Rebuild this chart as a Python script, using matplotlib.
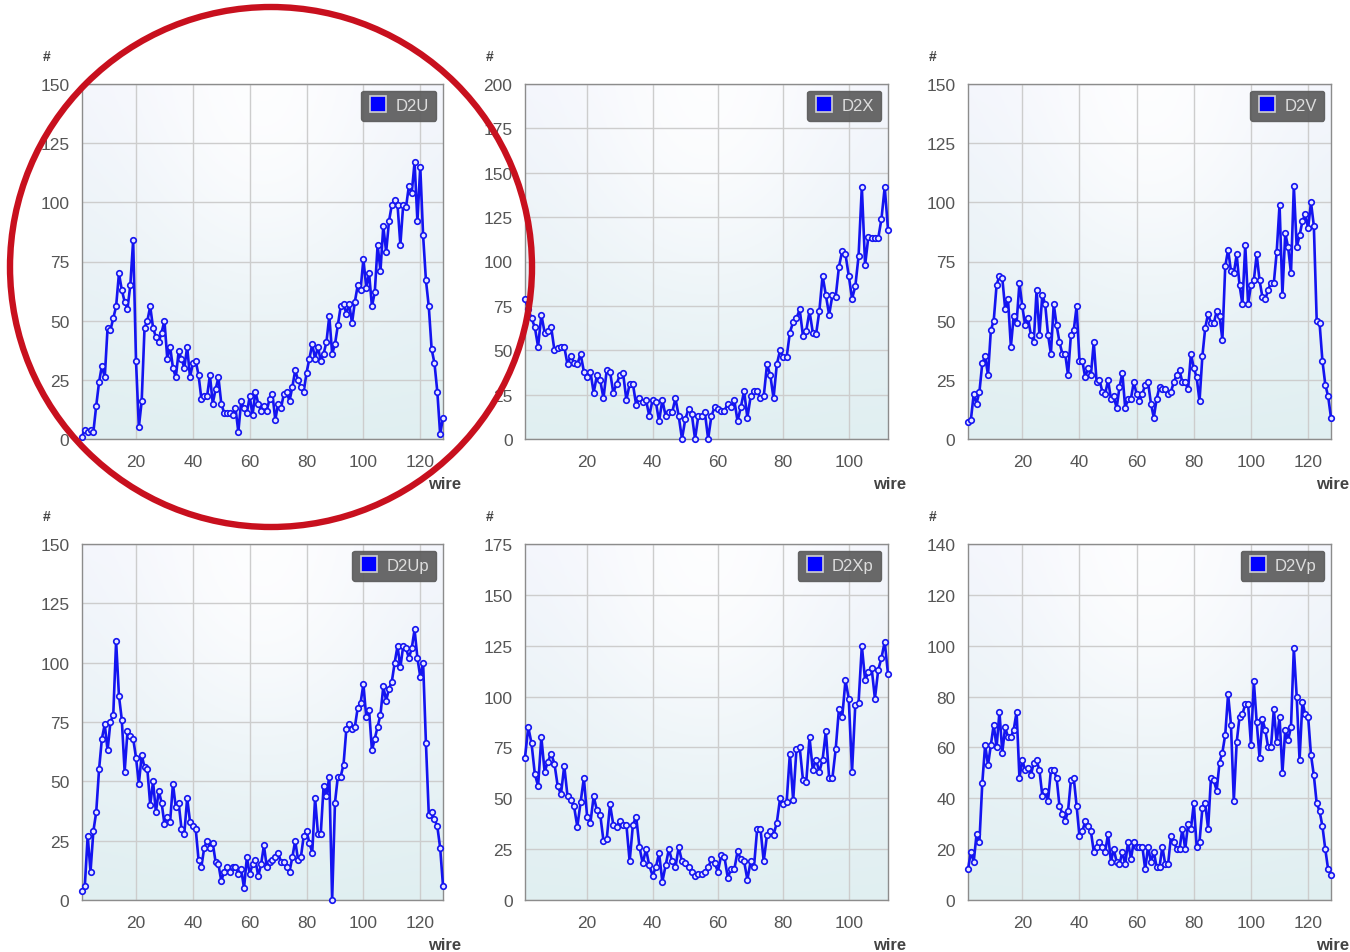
import numpy as np
import matplotlib
matplotlib.use('Agg')
import matplotlib.pyplot as plt
from matplotlib.lines import Line2D
from matplotlib.patches import Ellipse

plt.rcParams['font.family'] = ['Liberation Sans', 'DejaVu Sans']

# hits per wire
d2u = [1, 4, 3, 4, 3, 14, 24, 31, 26, 47,
       46, 51, 56, 70, 63, 58, 55, 65, 84, 33,
       5, 16, 47, 50, 56, 47, 43, 41, 45, 50,
       34, 39, 30, 26, 37, 34, 30, 39, 26, 32,
       33, 27, 17, 18, 18, 27, 15, 21, 26, 15,
       11, 11, 11, 10, 13, 3, 16, 13, 11, 18,
       10, 20, 15, 12, 14, 12, 17, 19, 8, 15,
       13, 19, 20, 16, 22, 29, 25, 22, 20, 28,
       34, 40, 34, 39, 33, 36, 41, 52, 36, 40,
       48, 56, 57, 53, 57, 49, 58, 65, 63, 76,
       64, 70, 56, 62, 82, 71, 90, 79, 92, 99,
       101, 99, 82, 99, 98, 107, 104, 117, 92, 115,
       86, 67, 56, 38, 32, 20, 2, 9]

d2x = [79, 73, 68, 63, 52, 70, 60, 61, 63, 50,
       51, 52, 52, 42, 47, 43, 42, 48, 38, 35,
       38, 26, 36, 33, 23, 39, 38, 26, 31, 36,
       37, 22, 31, 31, 19, 23, 21, 22, 13, 22,
       21, 10, 22, 13, 15, 15, 23, 13, 0, 11,
       17, 14, 0, 13, 13, 15, 0, 13, 18, 17,
       16, 16, 20, 18, 22, 10, 18, 27, 12, 24,
       27, 27, 23, 24, 42, 36, 23, 42, 50, 46,
       46, 60, 66, 68, 73, 58, 61, 72, 60, 59,
       72, 92, 81, 70, 81, 80, 97, 106, 104, 92,
       79, 86, 103, 142, 98, 114, 113, 113, 113, 124,
       142, 118]

d2v = [7, 8, 19, 15, 20, 32, 35, 27, 46, 50,
       65, 69, 68, 55, 59, 39, 52, 49, 66, 56,
       48, 51, 44, 41, 63, 44, 61, 57, 44, 36,
       57, 48, 41, 36, 36, 27, 44, 46, 56, 33,
       33, 26, 30, 27, 41, 24, 25, 20, 19, 25,
       17, 18, 13, 22, 28, 13, 17, 17, 24, 19,
       16, 19, 23, 24, 15, 9, 17, 22, 21, 21,
       19, 20, 24, 27, 29, 24, 24, 21, 36, 30,
       26, 16, 35, 47, 53, 49, 49, 54, 52, 42,
       73, 80, 71, 70, 78, 65, 57, 82, 57, 65,
       67, 78, 67, 60, 59, 63, 66, 66, 79, 99,
       61, 87, 81, 70, 107, 81, 86, 92, 95, 89,
       100, 90, 50, 49, 33, 23, 18, 9]

d2up = [4, 6, 27, 12, 29, 37, 55, 68, 74, 63,
        75, 78, 109, 86, 76, 54, 71, 69, 68, 60,
        49, 61, 56, 55, 40, 50, 37, 46, 41, 32,
        35, 33, 49, 39, 41, 30, 28, 43, 33, 31,
        30, 17, 14, 22, 25, 22, 24, 16, 15, 8,
        12, 14, 12, 14, 14, 11, 13, 5, 18, 11,
        15, 17, 10, 15, 23, 14, 16, 17, 18, 20,
        16, 16, 14, 12, 18, 25, 17, 18, 27, 29,
        24, 20, 43, 28, 28, 48, 44, 52, 0, 41,
        52, 52, 57, 72, 74, 72, 73, 81, 83, 91,
        77, 80, 63, 68, 73, 78, 90, 84, 89, 92,
        100, 107, 98, 107, 106, 102, 106, 114, 102, 94,
        100, 66, 36, 37, 34, 31, 22, 6]

d2xp = [70, 85, 77, 62, 56, 80, 63, 68, 72, 67,
        56, 52, 66, 51, 49, 46, 36, 48, 60, 41,
        38, 51, 44, 42, 29, 30, 47, 37, 36, 39,
        37, 37, 19, 37, 41, 26, 18, 25, 17, 12,
        16, 23, 9, 17, 25, 19, 16, 26, 19, 18,
        16, 14, 12, 13, 13, 14, 16, 20, 18, 14,
        22, 21, 11, 15, 15, 24, 20, 19, 10, 19,
        16, 35, 35, 19, 32, 34, 32, 38, 50, 47,
        48, 72, 49, 74, 75, 59, 58, 80, 64, 69,
        63, 69, 83, 60, 60, 74, 94, 90, 108, 99,
        63, 96, 97, 125, 108, 112, 114, 99, 113, 119,
        127, 111]

d2vp = [12, 19, 15, 26, 23, 46, 61, 53, 61, 69,
        60, 74, 58, 68, 64, 64, 67, 74, 48, 55,
        51, 52, 49, 54, 55, 51, 41, 43, 39, 51,
        51, 48, 37, 34, 31, 35, 47, 48, 37, 25,
        27, 31, 29, 27, 19, 21, 23, 21, 19, 26,
        15, 20, 15, 14, 19, 14, 23, 16, 23, 21,
        21, 21, 12, 21, 15, 19, 13, 13, 21, 14,
        14, 25, 23, 20, 20, 28, 20, 30, 28, 38,
        21, 23, 36, 38, 28, 48, 47, 43, 54, 58,
        65, 81, 69, 39, 62, 72, 73, 77, 77, 61,
        86, 70, 56, 71, 67, 60, 60, 75, 62, 72,
        50, 67, 63, 68, 99, 80, 55, 78, 73, 72,
        57, 49, 38, 35, 29, 20, 12, 10]

names = ['D2U', 'D2X', 'D2V', 'D2Up', 'D2Xp', 'D2Vp']
series = [d2u, d2x, d2v, d2up, d2xp, d2vp]
y_max = [150, 200, 150, 150, 175, 140]
y_step = [25, 25, 25, 25, 25, 20]
x_ticks = [20, 40, 60, 80, 100, 120]

# panel boxes in pixels (left, top, right, bottom)
W, H = 1350, 953
cols = [(82, 443), (525, 888), (968, 1331)]
rows = [(85, 440), (545, 901)]


def background():
    ny, nx = 120, 120
    yy, xx = np.mgrid[0:1:ny * 1j, 0:1:nx * 1j]
    top = np.array([243, 245, 252]) / 255
    bot = np.array([224, 239, 241]) / 255
    img = top * (1 - yy[..., None]) + bot * yy[..., None]
    glow = np.exp(-((xx - 0.5) / 0.35) ** 2 - (yy / 0.55) ** 2)
    img = img * (1 - 0.85 * glow[..., None]) + 0.85 * glow[..., None]
    return img


fig = plt.figure(figsize=(13.5, 9.53), dpi=100)
bg = background()

for i, (name, vals) in enumerate(zip(names, series)):
    x0, x1 = cols[i % 3]
    y0, y1 = rows[i // 3]
    ax = fig.add_axes([x0 / W, 1 - y1 / H, (x1 - x0) / W, (y1 - y0) / H])
    ax.imshow(bg, extent=(0, 1, 0, 1), transform=ax.transAxes, aspect='auto', zorder=-1)

    wires = np.arange(1, len(vals) + 1)
    ax.plot(wires, vals, color='#1414f0', lw=1.9, marker='o', markersize=4.0,
            markerfacecolor='#e6e8ff', markeredgecolor='#1414f0', markeredgewidth=1.2,
            zorder=3, clip_on=False)

    ax.set_xlim(1, len(vals))
    ax.set_ylim(0, y_max[i])
    ax.set_xticks(x_ticks[:5] if len(vals) < 120 else x_ticks)
    ax.set_yticks(np.arange(0, y_max[i] + 1, y_step[i]))
    ax.grid(color='#cdcdcd', lw=1)
    ax.set_axisbelow(True)
    ax.tick_params(length=0, labelsize=12.5, colors='#555555')
    ax.tick_params(axis='y', pad=9)
    ax.tick_params(axis='x', pad=11)
    for s in ax.spines.values():
        s.set_color('#8c8c8c')
        s.set_linewidth(1)

    handle = Line2D([], [], marker='s', linestyle='none', markersize=11,
                    markerfacecolor='#0000ff', markeredgecolor='#d0d0d0', markeredgewidth=1.2)
    leg = ax.legend([handle], [name], loc='upper right', fontsize=12, labelcolor='#dddddd',
                    facecolor='#5c5c5c', edgecolor='#5c5c5c', framealpha=0.92,
                    borderpad=0.3, handletextpad=0.5, borderaxespad=0.55, handlelength=1.1)
    leg.get_frame().set_boxstyle('round', pad=0.15)
    leg.set_zorder(5)

    ax.text(-0.097, 1.078, '#', transform=ax.transAxes, fontsize=10, fontweight='bold',
            color='#444444', ha='center', va='center')
    ax.text(1.05, -0.124, 'wire', transform=ax.transAxes, fontsize=12, fontweight='bold',
            color='#444444', ha='right', va='center')

# red highlight ring drawn over the first panel
ring = Ellipse((271 / W, 1 - 268 / H), 522 / W, 520 / H, transform=fig.transFigure,
               fill=False, edgecolor='#c8101e', lw=4.6, zorder=10)
fig.add_artist(ring)

fig.savefig('out.png', dpi=100)
